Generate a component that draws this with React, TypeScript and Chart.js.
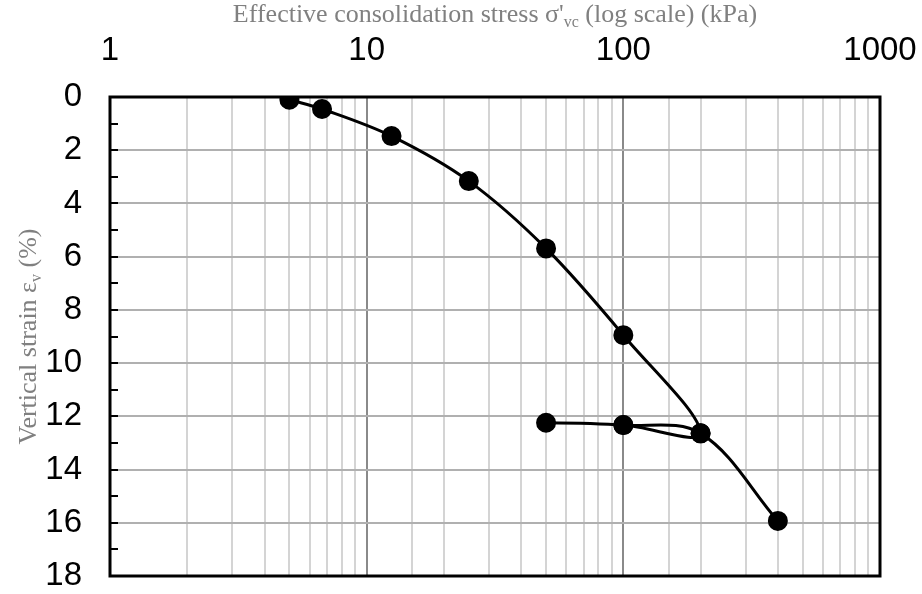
import React, { useEffect, useRef } from "react";
import { Chart, registerables } from "chart.js";

Chart.register(...registerables);

// ---- data ----
const stress = [5, 6.7, 12.5, 25, 50, 100, 200, 100, 50, 100, 200, 400];
const strain = [0.1, 0.45, 1.47, 3.16, 5.69, 8.95, 12.64, 12.33, 12.24, 12.33, 12.64, 15.93];
const xMajorTicks = [1, 10, 100, 1000];
const yMin = 0;
const yMax = 18;
const yLabelStep = 2;
const yMinorStep = 1;
const xTitleParts: [string, boolean][] = [
  ["Effective consolidation stress σ'", false],
  ["vc", true],
  [" (log scale) (kPa)", false],
];
const yTitleParts: [string, boolean][] = [
  ["Vertical strain ε", false],
  ["v", true],
  [" (%)", false],
];

const TICK_FONT = "'Liberation Sans', Arial, sans-serif";
const TITLE_FONT = "'Liberation Serif', 'Times New Roman', serif";
const TITLE_SIZE = 26;
const TICK_SIZE = 33;
const TITLE_COLOR = "#808080";

function isMajor(v: number) {
  return xMajorTicks.some((m) => Math.abs(m - v) < 1e-9);
}

function drawParts(ctx: CanvasRenderingContext2D, parts: [string, boolean][], size: number) {
  const sub = Math.round(size * 0.62);
  const widths = parts.map(([t, s]) => {
    ctx.font = `${s ? sub : size}px ${TITLE_FONT}`;
    return ctx.measureText(t).width;
  });
  const total = widths.reduce((a, b) => a + b, 0);
  let x = -total / 2;
  ctx.textAlign = "left";
  ctx.textBaseline = "alphabetic";
  parts.forEach(([t, s], i) => {
    ctx.font = `${s ? sub : size}px ${TITLE_FONT}`;
    ctx.fillText(t, x, s ? size * 0.2 : 0);
    x += widths[i];
  });
}

const framePlugin = {
  id: "frame",
  beforeDatasetsDraw(chart: any) {
    const { ctx, chartArea } = chart;
    const y = chart.scales.y;
    ctx.save();
    ctx.strokeStyle = "#000";
    ctx.lineWidth = 2;
    for (let v = yMin; v <= yMax; v += yMinorStep) {
      const py = Math.round(y.getPixelForValue(v));
      ctx.beginPath();
      ctx.moveTo(chartArea.left, py);
      ctx.lineTo(chartArea.left + 8, py);
      ctx.stroke();
    }
    ctx.lineWidth = 3;
    ctx.strokeRect(chartArea.left, chartArea.top, chartArea.right - chartArea.left, chartArea.bottom - chartArea.top);
    ctx.restore();
  },
  afterDraw(chart: any) {
    const { ctx, chartArea } = chart;
    ctx.save();
    ctx.fillStyle = TITLE_COLOR;
    ctx.translate((chartArea.left + chartArea.right) / 2, 22);
    drawParts(ctx, xTitleParts, TITLE_SIZE);
    ctx.restore();
    ctx.save();
    ctx.fillStyle = TITLE_COLOR;
    ctx.translate(36, (chartArea.top + chartArea.bottom) / 2);
    ctx.rotate(-Math.PI / 2);
    drawParts(ctx, yTitleParts, TITLE_SIZE);
    ctx.restore();
  },
};

export default function App() {
  const ref = useRef<HTMLCanvasElement>(null);
  useEffect(() => {
    if (!ref.current) return;
    const chart = new Chart(ref.current, {
      type: "scatter",
      data: {
        datasets: [
          {
            data: stress.map((x, i) => ({ x, y: strain[i] })),
            showLine: true,
            borderColor: "#000",
            backgroundColor: "#000",
            borderWidth: 3,
            pointRadius: 8.5,
            pointHoverRadius: 8.5,
            pointBackgroundColor: "#000",
            pointBorderColor: "#000",
            tension: 0.35,
          },
        ],
      },
      options: {
        animation: false,
        responsive: false,
        devicePixelRatio: 1,
        layout: { padding: { left: 0, top: 0, right: 42, bottom: 18 } },
        plugins: { legend: { display: false }, tooltip: { enabled: false }, title: { display: false } },
        scales: {
          x: {
            type: "logarithmic",
            position: "top",
            min: 1,
            max: 1000,
            afterFit: (s: any) => {
              s.height = 97;
              s.paddingLeft = 0;
              s.paddingRight = 0;
              s.paddingTop = 0;
              s.paddingBottom = 0;
            },
            border: { display: false },
            grid: {
              drawTicks: false,
              lineWidth: 2,
              color: (c: any) => (isMajor(c.tick.value) ? "#8a8a8a" : "#d4d4d4"),
            },
            ticks: {
              autoSkip: false,
              maxRotation: 0,
              padding: 26,
              color: "#000",
              font: { family: TICK_FONT, size: TICK_SIZE },
              callback: (v: any) => (isMajor(Number(v)) ? String(v) : ""),
            },
          },
          y: {
            type: "linear",
            reverse: true,
            min: yMin,
            max: yMax,
            afterFit: (s: any) => {
              s.width = 110;
              s.paddingLeft = 0;
              s.paddingRight = 0;
              s.paddingTop = 0;
              s.paddingBottom = 0;
            },
            border: { display: false },
            grid: { drawTicks: false, lineWidth: 2, color: "#b0b0b0" },
            ticks: {
              stepSize: yLabelStep,
              padding: 28,
              color: "#000",
              font: { family: TICK_FONT, size: TICK_SIZE },
            },
          },
        },
      },
      plugins: [framePlugin],
    });
    return () => chart.destroy();
  }, []);
  return (
    <div style={{ position: "fixed", left: 0, top: 0, width: 922, height: 594, background: "#fff" }}>
      <canvas ref={ref} width={922} height={594} />
    </div>
  );
}
